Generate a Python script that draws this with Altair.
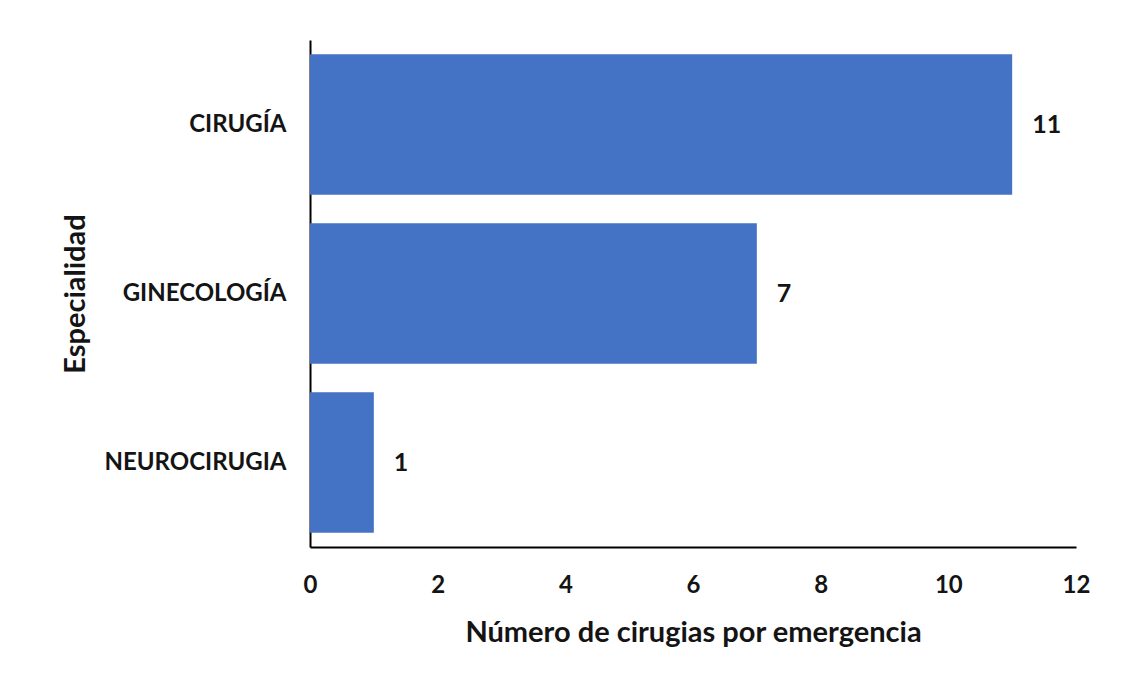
import altair as alt
import pandas as pd

categorias = ["CIRUGÍA", "GINECOLOGÍA", "NEUROCIRUGIA"]
valores = [11, 7, 1]
ticks_x = [0, 2, 4, 6, 8, 10, 12]

df = pd.DataFrame({"Especialidad": categorias, "Valor": valores})

FONT = "Lato"
INK = "#141414"

y_enc = alt.Y(
    "Especialidad:N",
    sort=categorias,
    scale=alt.Scale(paddingInner=0.17, paddingOuter=0.085),
    axis=alt.Axis(
        title="Especialidad",
        labelFont=FONT, labelFontSize=24, labelFontWeight="bold", labelColor=INK,
        labelPadding=24, ticks=False, labelLimit=400,
        domainColor="#000000", domainWidth=2,
        titleFont=FONT, titleFontSize=29, titleFontWeight="bold", titleColor=INK,
        titlePadding=20,
    ),
)

x_enc = alt.X(
    "Valor:Q",
    scale=alt.Scale(domain=[0, 12]),
    axis=alt.Axis(
        title="Número de cirugias por emergencia",
        values=ticks_x, format="d", labelFlush=False,
        labelFont=FONT, labelFontSize=24, labelFontWeight="bold", labelColor=INK,
        labelPadding=26, ticks=False, grid=False,
        domainColor="#000000", domainWidth=2,
        titleFont=FONT, titleFontSize=29, titleFontWeight="bold", titleColor=INK,
        titlePadding=21,
    ),
)

bars = alt.Chart(df).mark_bar(color="#4472C4").encode(x=x_enc, y=y_enc)

text = alt.Chart(df).mark_text(
    align="left", baseline="middle", dx=20, font=FONT, fontSize=25,
    fontWeight="bold", color=INK,
).encode(x="Valor:Q", y=alt.Y("Especialidad:N", sort=categorias), text="Valor:Q")

chart = (
    (bars + text)
    .properties(
        width=766,
        height=507,
        autosize=alt.AutoSizeParams(type="none"),
        padding={"left": 302, "top": 32, "right": 50, "bottom": 120},
        background="white",
    )
    .configure_view(stroke=None)
)

chart.save("out.html", embed_options={"renderer": "svg", "actions": False})
